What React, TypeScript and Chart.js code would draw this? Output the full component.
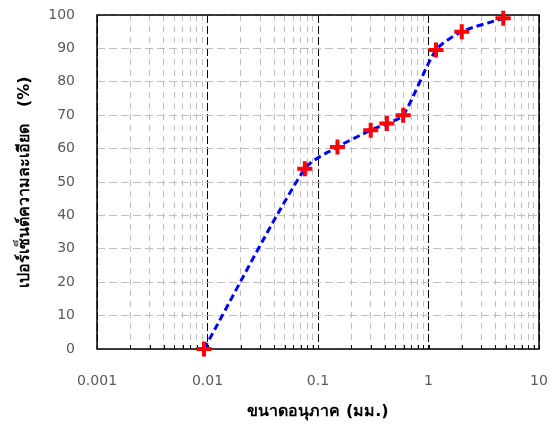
import React, { useEffect, useRef } from 'react';
import { Chart, registerables } from 'chart.js';

Chart.register(...registerables);

// Data
const particleSizes = [0.0093, 0.076, 0.15, 0.3, 0.42, 0.59, 1.17, 2.0, 4.75];
const percentFiner = [0, 54, 60.5, 65.5, 67.5, 70, 89.5, 95, 99];

const xDecades = [0.001, 0.01, 0.1, 1, 10];
const xDecadeLabels = ['0.001', '0.01', '0.1', '1', '10'];
const yTickValues = [0, 10, 20, 30, 40, 50, 60, 70, 80, 90, 100];

const xTitle = 'ขนาดอนุภาค (มม.)';
const yTitle = 'เปอร์เซ็นต์ความละเอียด   (%)';

const isDecade = (v: number) => xDecades.some((d) => Math.abs(v - d) / d < 1e-6);

const xMinorTickValues: number[] = [];
for (let i = 0; i < xDecades.length - 1; i++) {
  for (let m = 1; m <= 9; m++) xMinorTickValues.push(Number((m * xDecades[i]).toPrecision(6)));
}
xMinorTickValues.push(xDecades[xDecades.length - 1]);

const framePlugin = {
  id: 'frame',
  beforeDatasetsDraw(chart: any) {
    const { ctx, chartArea: a } = chart;
    const xs = chart.scales.x;
    ctx.save();
    ctx.setLineDash([]);
    ctx.strokeStyle = '#000000';
    ctx.lineWidth = 1;
    ctx.beginPath();
    xs.ticks.forEach((t: any) => {
      const px = Math.round(xs.getPixelForValue(t.value)) + 0.5;
      ctx.moveTo(px, a.bottom);
      ctx.lineTo(px, a.bottom - 4);
    });
    ctx.stroke();
    ctx.lineWidth = 1.5;
    ctx.strokeRect(a.left, a.top, a.right - a.left, a.bottom - a.top);
    ctx.restore();
  },
};

const zeroPad = (s: any) => {
  s.paddingLeft = 0;
  s.paddingRight = 0;
  s.paddingTop = 0;
  s.paddingBottom = 0;
};

export default function App() {
  const canvasRef = useRef<HTMLCanvasElement | null>(null);

  useEffect(() => {
    document.body.style.margin = '0';
    const canvas = canvasRef.current;
    if (!canvas) return;
    const tickFont = { family: '"DejaVu Sans", Tahoma, sans-serif', size: 14 };
    const titleFont = { family: 'Tahoma, "DejaVu Sans", sans-serif', size: 16, weight: 'bold' as const, lineHeight: 1.2 };
    const chart = new Chart(canvas, {
      type: 'line',
      data: {
        datasets: [
          {
            data: particleSizes.map((x, i) => ({ x, y: percentFiner[i] })),
            borderColor: '#0000ff',
            borderWidth: 3,
            borderDash: [7, 4],
            tension: 0.25,
            fill: false,
            pointStyle: 'cross',
            pointRadius: 7.5,
            pointBorderWidth: 4,
            pointBorderColor: '#ff0000',
            pointBackgroundColor: '#ff0000',
            clip: false as any,
          },
        ],
      },
      options: {
        responsive: false,
        animation: false,
        layout: { padding: { left: 0, top: 15, right: 16, bottom: 12 } },
        plugins: {
          legend: { display: false },
          tooltip: { enabled: false },
        },
        scales: {
          x: {
            type: 'logarithmic',
            min: 0.001,
            max: 10,
            afterFit: (s: any) => {
              s.height = 72;
              zeroPad(s);
            },
            afterBuildTicks: (s: any) => {
              s.ticks = xMinorTickValues.map((v) => ({ value: v, major: isDecade(v) }));
            },
            grid: {
              color: (c: any) => (c.tick && isDecade(c.tick.value) ? '#000000' : '#bfbfbf'),
              lineWidth: 1,
              drawTicks: false,
            },
            border: {
              display: false,
              dash: (c: any) => (c.tick && isDecade(c.tick.value) ? [8, 3] : [6, 5]),
            } as any,
            ticks: {
              autoSkip: false,
              maxRotation: 0,
              minRotation: 0,
              padding: 24,
              color: '#595959',
              font: tickFont,
              callback: (v: any) => {
                const idx = xDecades.findIndex((d) => Math.abs(Number(v) - d) / d < 1e-6);
                return idx >= 0 ? xDecadeLabels[idx] : '';
              },
            },
            title: {
              display: true,
              text: xTitle,
              color: '#000000',
              font: titleFont,
              padding: { top: 0, bottom: 0 },
            },
          },
          y: {
            type: 'linear',
            min: 0,
            max: 100,
            afterFit: (s: any) => {
              s.width = 97;
              zeroPad(s);
            },
            afterBuildTicks: (s: any) => {
              s.ticks = yTickValues.map((v) => ({ value: v }));
            },
            grid: {
              color: '#bfbfbf',
              lineWidth: 1,
              drawTicks: false,
            },
            border: { display: false, dash: [8, 4] },
            ticks: {
              padding: 22,
              color: '#595959',
              font: tickFont,
            },
            title: {
              display: true,
              text: yTitle,
              color: '#000000',
              font: titleFont,
              padding: { top: 15, bottom: 0 },
            },
          },
        },
      },
      plugins: [framePlugin],
    });
    return () => chart.destroy();
  }, []);

  return (
    <div style={{ width: 555, height: 433 }}>
      <canvas ref={canvasRef} width={555} height={433} />
    </div>
  );
}
